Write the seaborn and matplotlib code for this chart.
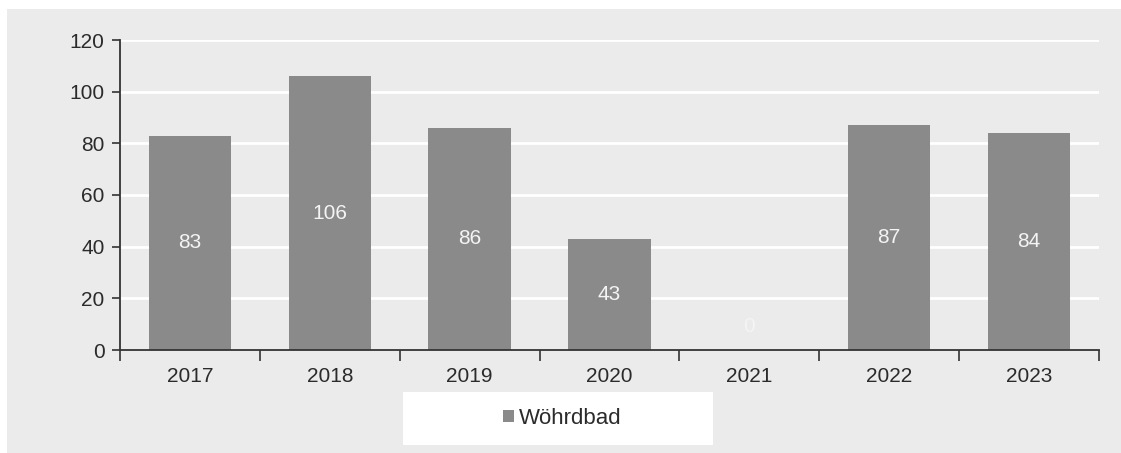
import numpy as np
import pandas as pd
import matplotlib.pyplot as plt
import seaborn as sns
from matplotlib.patches import Rectangle

years  = ["2017", "2018", "2019", "2020", "2021", "2022", "2023"]
values = [83, 106, 86, 43, 0, 87, 84]
series_name = "Wöhrdbad"
y_ticks = [0, 20, 40, 60, 80, 100, 120]

BAR_COLOR   = "#8a8a8a"
PANEL_COLOR = "#ebebeb"
TEXT_COLOR  = "#2b2b2b"

sns.set_theme(style="white")
plt.rcParams["font.family"] = ["Liberation Sans", "DejaVu Sans"]

df = pd.DataFrame({"year": years, "value": values})

W, H = 1121, 453
fig = plt.figure(figsize=(W / 100, H / 100), dpi=100)
fig.patch.set_facecolor("white")

# grey panel behind everything
fig.patches.append(Rectangle((7 / W, 0), 1 - 7 / W, 1 - 9 / H,
                             transform=fig.transFigure, facecolor=PANEL_COLOR,
                             edgecolor="none", zorder=-10))
# white legend box
fig.patches.append(Rectangle((403 / W, 1 - 445 / H), 310 / W, 53 / H,
                             transform=fig.transFigure, facecolor="white",
                             edgecolor="none", zorder=-5))

ax = fig.add_axes([120 / W, 1 - 350 / H, (1099 - 120) / W, (350 - 40) / H])
ax.set_facecolor(PANEL_COLOR)
ax.patch.set_alpha(0)

sns.barplot(data=df, x="year", y="value", color=BAR_COLOR, width=0.59,
            saturation=1, label=series_name, ax=ax, zorder=3,
            edgecolor="none", linewidth=0)
if ax.get_legend() is not None:
    ax.get_legend().remove()

ax.set_ylim(0, 120)
ax.set_xlim(-0.5, len(years) - 0.5)
ax.set_yticks(y_ticks)
ax.yaxis.grid(True, color="white", linewidth=2, zorder=0)
ax.set_axisbelow(True)
ax.set_xlabel("")
ax.set_ylabel("")

for side in ("top", "right"):
    ax.spines[side].set_visible(False)
for side in ("left", "bottom"):
    ax.spines[side].set_color("#333333")
    ax.spines[side].set_linewidth(1.3)
    ax.spines[side].set_zorder(5)

ax.tick_params(axis="y", which="major", direction="out", length=6, width=1.2,
               color="#333333", labelsize=15, labelcolor=TEXT_COLOR, pad=5, left=True)
ax.tick_params(axis="x", which="major", length=0, labelsize=15,
               labelcolor=TEXT_COLOR, pad=12)
ax.set_xticks(np.arange(-0.5, len(years)), minor=True)
ax.tick_params(axis="x", which="minor", direction="out", length=8, width=1.2,
               color="#333333", bottom=True)

# value labels in the middle of each bar
for i, v in enumerate(values):
    ax.text(i, max(v / 2, 9), f"{v}", ha="center", va="center",
            fontsize=15, color="#f4f4f4", zorder=6)

handles, labels = ax.get_legend_handles_labels()
fig.legend(handles, labels, loc="center", frameon=False,
           bbox_to_anchor=(562 / W, 1 - 418.5 / H), fontsize=16,
           handlelength=0.5, handleheight=0.5, handletextpad=0.2,
           labelcolor=TEXT_COLOR)

fig.savefig("out.png", dpi=100)
